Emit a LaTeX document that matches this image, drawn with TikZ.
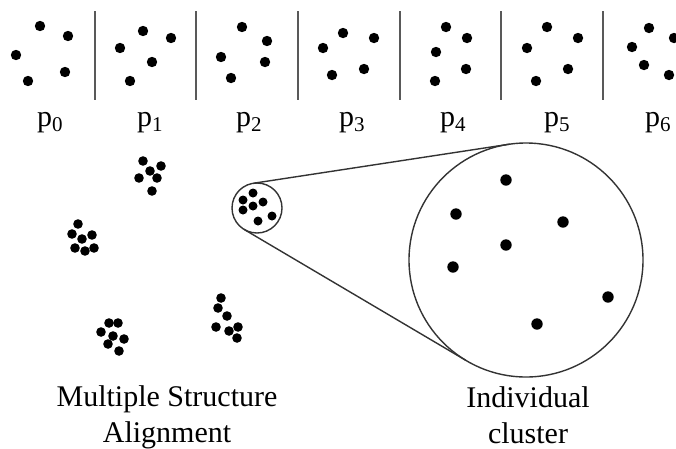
\documentclass[tikz,border=0pt]{standalone}
\usepackage{fontspec}
\setmainfont{Liberation Serif}
\begin{document}
\begin{tikzpicture}[x=1pt,y=-1pt]
\tikzset{lbl/.style={font=\fontsize{30}{36}\selectfont,inner sep=0pt,align=center}}
\useasboundingbox (0,0) rectangle (676,448);
% structures p0 ... p6
\foreach \x in {95,196,298,400,501,603} {
  \draw[black!65,line width=1.6pt] (\x,11) -- (\x,100);
}
\foreach \x/\y in {40/26,68/36,16/55,65/72,28/81, 143/31,171/38,120/48,152/62,130/81,
  242/27,267/41,221/57,265/62,231/78, 343/33,374/38,323/48,364/69,332/75,
  446/27,467/38,436/52,466/69,435/81, 547/27,578/38,527/48,568/69,536/81,
  649/28,674/38,632/47,644/65,669/75} {
  \fill (\x,\y) circle (5.2);
}
\foreach \x [count=\i from 0] in {50,150,249,352,453,557,658} {
  \node[lbl,anchor=base] (p\i) at (\x,126) {p\textsubscript{\i}};
}
% clusters
\foreach \x/\y in {143/161,161/166,150/171,139/178,157/178,152/191,
  78/224,72/234,92/235,82/239,75/248,85/251,94/248,
  109/323,118/323,101/332,113/336,124/339,108/344,119/351,
  221/298,218/308,227/316,216/327,229/331,238/327,237/338} {
  \fill (\x,\y) circle (4.8);
}
\node[draw=black!80,line width=1.4pt,circle,minimum size=50pt,inner sep=0pt,outer sep=0pt] (small) at (257,208) {};
\node[draw=black!80,line width=1.4pt,circle,minimum size=234pt,inner sep=0pt,outer sep=0pt] (big) at (526,260) {};
\draw[black!80,line width=1.4pt] (small.98.7) -- (big.98.7);
\draw[black!80,line width=1.4pt] (small.239.4) -- (big.239.4);
\foreach \x/\y in {253/193,243/200,263/202,253/206,243/210,272/216,258/221} {
  \fill (\x,\y) circle (4.5);
}
\foreach \x/\y in {506/180,456/214,563/222,506/245,453/267,608/297,537/324} {
  \fill (\x,\y) circle (5.7);
}
\node[lbl,anchor=base] (msa) at (167,442) {Multiple Structure\\Alignment};
\node[lbl,anchor=base] (ic) at (528,443) {Individual\\cluster};
\end{tikzpicture}
\end{document}
